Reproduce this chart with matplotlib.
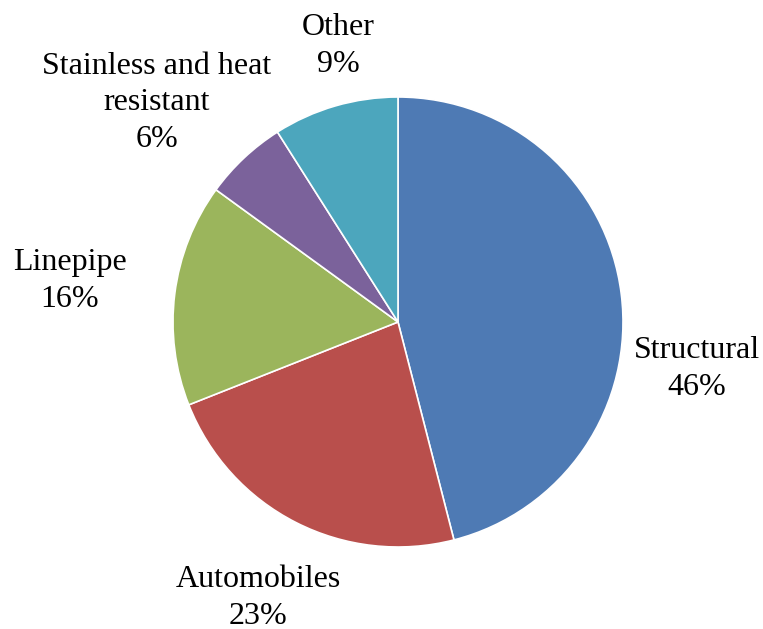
import matplotlib.pyplot as plt

plt.rcParams["font.family"] = ["Liberation Serif", "DejaVu Serif"]

categories = ["Structural", "Automobiles", "Linepipe", "Stainless and heat\nresistant", "Other"]
shares = [46, 23, 16, 6, 9]
colors = ["#4E7AB4", "#B94F4C", "#9BB55C", "#7B629B", "#4CA6BD"]

# label centres in figure pixels (x from left, y from top)
label_pos = [(697, 369), (258, 598), (70, 281), (157, 103), (338, 46)]

W, H = 763, 629
fig = plt.figure(figsize=(W / 100, H / 100), dpi=100)
ax = fig.add_axes([0, 0, 1, 1])

cx, cy, r = 398, H - 322, 225
ax.pie(
    shares,
    colors=colors,
    startangle=90,
    counterclock=False,
    center=(cx, cy),
    radius=r,
    wedgeprops={"edgecolor": "white", "linewidth": 1.2},
    frame=True,
)
ax.set_xlim(0, W)
ax.set_ylim(0, H)
ax.set_aspect("equal")
ax.axis("off")

for name, val, (px, py) in zip(categories, shares, label_pos):
    ax.text(px, H - py, f"{name}\n{val}%", ha="center", va="center",
            fontsize=23, linespacing=1.32, color="black")

fig.savefig("out.png", dpi=100)
